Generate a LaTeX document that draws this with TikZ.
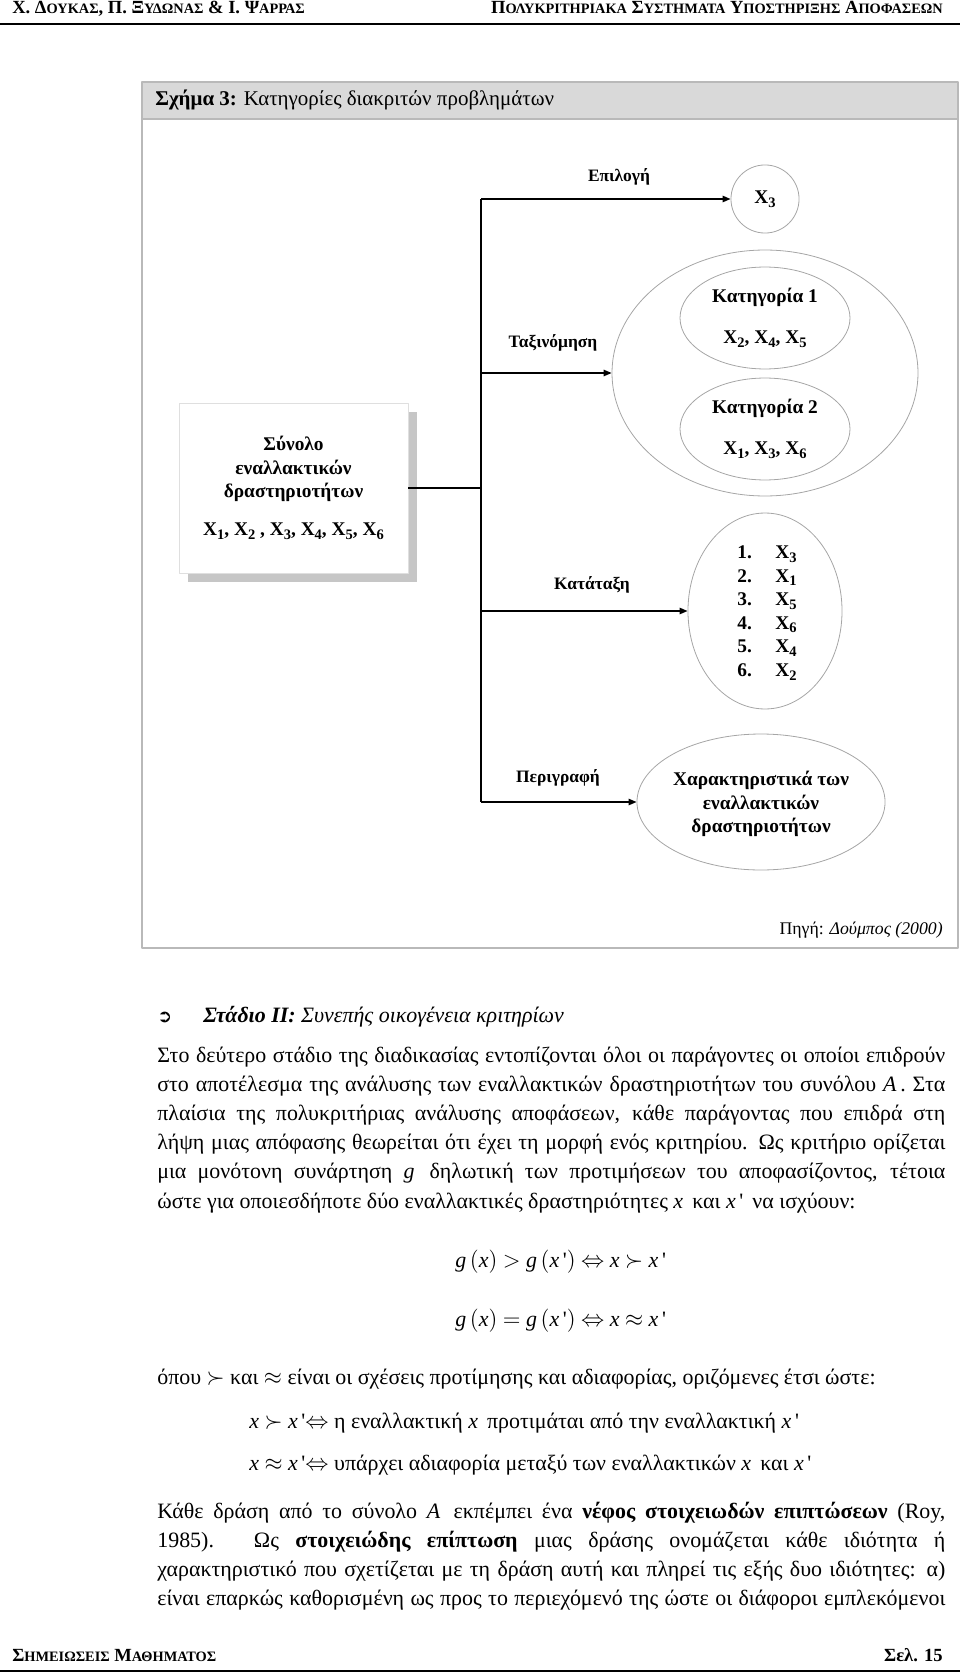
\documentclass[tikz,border=0pt]{standalone}
\usepackage{fontspec}
\setmainfont{Liberation Serif}
\newfontfamily\symfont{DejaVu Sans}
\usetikzlibrary{shapes.geometric,arrows.meta,shadows}
\newcommand\hsc[1]{{\fontsize{8.9}{8.9}\selectfont #1}}
\newcommand\ix[1]{\textit{#1}}
\newcommand\xs[1]{X\raisebox{-0.4ex}{\fontsize{9}{9}\selectfont #1}}
\newcommand\xp{\textit{x}\,\textquotesingle}
\tikzset{
  diag/.style={font=\fontsize{12}{14.6}\selectfont\bfseries, align=center},
  lbl/.style={font=\fontsize{10.8}{12}\selectfont\bfseries},
  oval/.style={draw=gray!70, line width=0.5pt, ellipse, inner sep=0pt, diag},
  setbox/.style={diag, draw=gray!25, fill=white, inner sep=0pt,
    minimum width=142pt, minimum height=105.4pt,
    general shadow={fill=gray!45, shadow xshift=5.6pt, shadow yshift=-5.6pt}},
  bus/.style={line width=0.9pt},
  arr/.style={bus, ->},
  txt/.style={font=\fontsize{13.6}{18}\selectfont, inner sep=0pt, anchor=base west},
  hdr/.style={font=\fontsize{11.5}{11.5}\selectfont\bfseries, inner sep=0pt},
}
\begin{document}
\begin{tikzpicture}[x=0.62pt, y=-0.62pt, line join=round, >={Triangle[length=5pt,width=4pt]}]
\useasboundingbox (0,0) rectangle (960,1674);

% header
\node[hdr, anchor=base west] (hleft) at (12,14) {Χ. Δ\hsc{ΟΥΚΑΣ}, Π. Ξ\hsc{ΥΔΩΝΑΣ} \& Ι. Ψ\hsc{ΑΡΡΑΣ}};
\node[hdr, anchor=base east] (hright) at (943,14) {Π\hsc{ΟΛΥΚΡΙΤΗΡΙΑΚΑ} Σ\hsc{ΥΣΤΗΜΑΤΑ} Υ\hsc{ΠΟΣΤΗΡΙΞΗΣ} Α\hsc{ΠΟΦΑΣΕΩΝ}};
\draw[line width=1pt] (0,24) -- (960,24);

% figure frame
\draw[draw=gray!55, fill=gray!30, line width=0.7pt] (142,82) rectangle (958,119);
\draw[draw=gray!55, line width=0.7pt] (142,119) rectangle (958,948);
\node[txt, anchor=west, font=\fontsize{13}{16}\selectfont] (title) at (155,100) {\textbf{Σχήμα 3:} Κατηγορίες διακριτών προβλημάτων};

% diagram
\node[setbox] (set) at (293.5,488) {Σύνολο\\εναλλακτικών\\δραστηριοτήτων\\[9pt]\xs{1}, \xs{2} , \xs{3}, \xs{4}, \xs{5}, \xs{6}};
\coordinate (bustop) at (481,199);
\coordinate (busmid) at (481,373);
\coordinate (buslow) at (481,611);
\coordinate (busbot) at (481,802);
\draw[bus] (set.east) -- (set.east -| bustop);
\draw[bus] (bustop) -- (busbot);

\node[oval, circle, minimum size=42.2pt] (sel) at (765,199) {\xs{3}};
\node[oval, minimum width=189.7pt, minimum height=152.5pt] (cls) at (765,373) {};
\node[oval, minimum width=105.4pt, minimum height=63.2pt] (cat1) at (765,318) {Κατηγορία 1\\[10.8pt]\xs{2}, \xs{4}, \xs{5}};
\node[oval, minimum width=105.4pt, minimum height=63.2pt] (cat2) at (765,429) {Κατηγορία 2\\[10.8pt]\xs{1}, \xs{3}, \xs{6}};
\node[oval, minimum width=95.5pt, minimum height=121.5pt] (rnk) at (765,611) {};
\node[diag, align=left] (rnklist) at (767,613) {\makebox[23.6pt][l]{1.}\xs{3}\\\makebox[23.6pt][l]{2.}\xs{1}\\\makebox[23.6pt][l]{3.}\xs{5}\\\makebox[23.6pt][l]{4.}\xs{6}\\\makebox[23.6pt][l]{5.}\xs{4}\\\makebox[23.6pt][l]{6.}\xs{2}};
\node[oval, minimum width=153.8pt, minimum height=84.3pt] (feat) at (761,802) {};
\node[diag] (feattxt) at (761,804) {Χαρακτηριστικά των\\εναλλακτικών\\δραστηριοτήτων};

\draw[arr] (bustop) -- (sel);
\draw[arr] (busmid) -- (cls);
\draw[arr] (buslow) -- (rnk);
\draw[arr] (busbot) -- (feat);

\node[lbl] (lsel) at (619,177) {Επιλογή};
\node[lbl] (lcls) at (553,343) {Ταξινόμηση};
\node[lbl] (lrnk) at (592,585) {Κατάταξη};
\node[lbl] (lfeat) at (558,778) {Περιγραφή};
\node[txt, anchor=base east, font=\fontsize{11}{13}\selectfont] (src) at (943,934) {Πηγή: \textit{Δούμπος (2000)}};

% text
\node[txt] (bul) at (157,1022) {{\symfont\fontsize{11}{11}\selectfont ➲}};
\node[txt] (stage) at (203,1022) {\textbf{\textit{Στάδιο II:}} \textit{Συνεπής οικογένεια κριτηρίων}};
\foreach \ptext [count=\i] in {
  {Στο δεύτερο στάδιο της διαδικασίας εντοπίζονται όλοι οι παράγοντες οι οποίοι επιδρούν},
  {στο αποτέλεσμα της ανάλυσης των εναλλακτικών δραστηριοτήτων του συνόλου \ix{A}\,. Στα},
  {πλαίσια της πολυκριτήριας ανάλυσης αποφάσεων, κάθε παράγοντας που επιδρά στη},
  {λήψη μιας απόφασης θεωρείται ότι έχει τη μορφή ενός κριτηρίου. Ως κριτήριο ορίζεται},
  {μια μονότονη συνάρτηση \ix{g}\, δηλωτική των προτιμήσεων του αποφασίζοντος, τέτοια}}
  \node[txt] (pa\i) at (157,{1062+29*(\i-1)}) {\makebox[488.6pt][s]{\ptext}};
\node[txt] (pa6) at (157,1208) {ώστε για οποιεσδήποτε δύο εναλλακτικές δραστηριότητες \ix{x}\, και \xp\, να ισχύουν:};

\node[txt] (f1) at (455,1267) {\ix{g}\,$\bigl($\ix{x}$\bigr)$ $>$ \ix{g}\,$\bigl($\xp$\bigr)$ $\Leftrightarrow$ \ix{x} $\succ$ \xp};
\node[txt] (f2) at (455,1326) {\ix{g}\,$\bigl($\ix{x}$\bigr)$ $=$ \ix{g}\,$\bigl($\xp$\bigr)$ $\Leftrightarrow$ \ix{x} $\approx$ \xp};

\node[txt] (where) at (157,1384) {όπου $\succ$ και $\approx$ είναι οι σχέσεις προτίμησης και αδιαφορίας, οριζόμενες έτσι ώστε:};
\node[txt] (d1) at (249,1428) {\ix{x} $\succ$ \xp$\Leftrightarrow$ η εναλλακτική \ix{x}\, προτιμάται από την εναλλακτική \xp};
\node[txt] (d2) at (249,1470) {\ix{x} $\approx$ \xp$\Leftrightarrow$ υπάρχει αδιαφορία μεταξύ των εναλλακτικών \ix{x}\, και \xp};

\foreach \ptext [count=\i] in {
  {Κάθε δράση από το σύνολο \ix{A}\, εκπέμπει ένα \textbf{νέφος στοιχειωδών επιπτώσεων} (Roy,},
  {1985). Ως \textbf{στοιχειώδης επίπτωση} μιας δράσης ονομάζεται κάθε ιδιότητα ή},
  {χαρακτηριστικό που σχετίζεται με τη δράση αυτή και πληρεί τις εξής δυο ιδιότητες: α)},
  {είναι επαρκώς καθορισμένη ως προς το περιεχόμενό της ώστε οι διάφοροι εμπλεκόμενοι}}
  \node[txt] (pb\i) at (157,{1518+29*(\i-1)}) {\makebox[488.6pt][s]{\ptext}};

% footer
\node[hdr, anchor=base west] (fleft) at (12,1661) {Σ\hsc{ΗΜΕΙΩΣΕΙΣ} Μ\hsc{ΑΘΗΜΑΤΟΣ}};
\node[hdr, anchor=base east] (fright) at (943,1661) {Σελ. 15};
\draw[line width=1pt] (0,1671) -- (960,1671);
\end{tikzpicture}
\end{document}
